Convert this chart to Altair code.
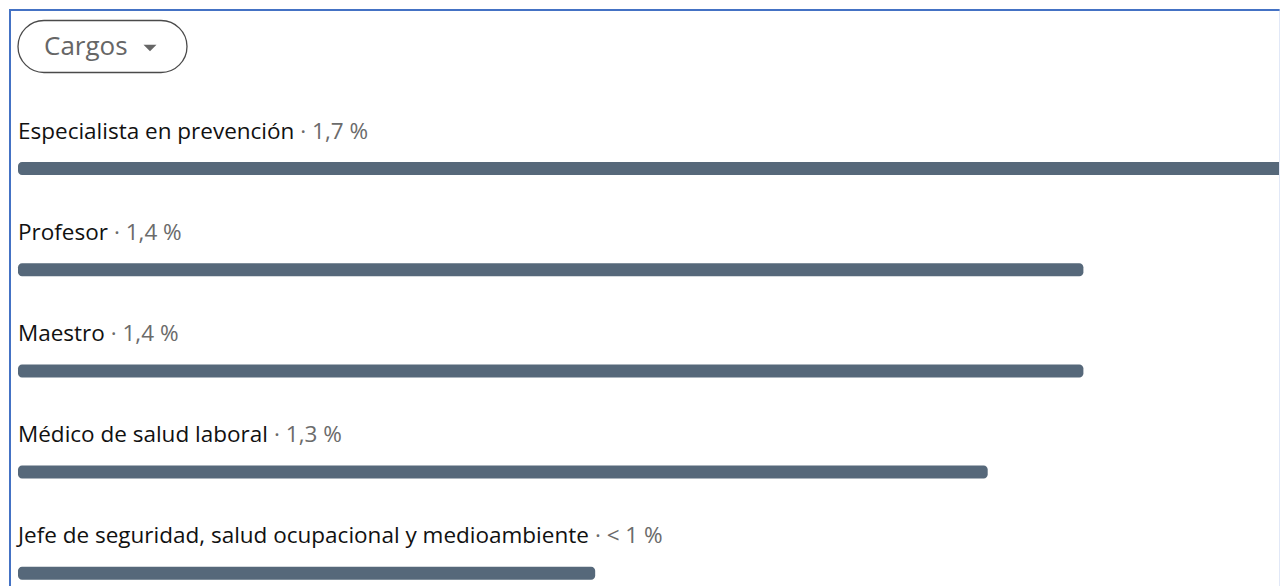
import altair as alt
import pandas as pd

# ---- data ----
cargos = [
    "Especialista en prevención",
    "Profesor",
    "Maestro",
    "Médico de salud laboral",
    "Jefe de seguridad, salud ocupacional y medioambiente",
]
valores = [1.7, 1.425, 1.425, 1.297, 0.772]          # share (%) -> bar length
etiquetas_valor = ["1,7 %", "1,4 %", "1,4 %", "1,3 %", "< 1 %"]
boton = "Cargos"

FONT = "Open Sans"
FS = 22.5          # label font size
W, H = 1272, 578

# Open Sans advance widths (units per em = 2048) used to place the grey value
# right after each title, like the inline "title · value" text of the original.
_ADV = {
    " ": 532, "·": 545, ",": 497, "%": 1714, "<": 1171,
    "a": 1139, "b": 1255, "c": 975, "d": 1255, "e": 1149, "f": 694, "g": 1122,
    "h": 1257, "i": 518, "j": 518, "k": 1075, "l": 518, "m": 1905, "n": 1257,
    "o": 1237, "p": 1255, "q": 1255, "r": 836, "s": 977, "t": 723, "u": 1257,
    "v": 1026, "w": 1593, "x": 1073, "y": 1028, "z": 977, "é": 1149, "ó": 1237,
    "E": 1147, "J": 545, "M": 1849, "P": 1237,
}


def text_width(s, size):
    return sum(_ADV.get(ch, 1150) for ch in s) * size / 2048.0


df = pd.DataFrame({
    "cargo": cargos,
    "valor": valores,
    "etiqueta": ["· " + e for e in etiquetas_valor],
    "fila": list(range(len(cargos))),
})
df["desplazamiento"] = [text_width(c + " ", FS) for c in cargos]

xscale = alt.Scale(domain=[0, 1.7], range=[9, 1280], nice=False, zero=True, padding=0)
yscale = alt.Scale(domain=[0, 4], range=[159.5, 564.3], nice=False, zero=False, padding=0)

base = alt.Chart(df)

bars = base.mark_bar(
    orient="horizontal", size=13, cornerRadius=4, color="#56687a", clip=True
).encode(
    x=alt.X("valor:Q", scale=xscale, axis=None),
    x2=alt.X2(datum=0),
    y=alt.Y("fila:Q", scale=yscale, axis=None),
)

txt_name = base.mark_text(
    align="left", baseline="alphabetic", dy=-30, font=FONT, fontSize=FS, color="#111111"
).encode(
    x=alt.X(datum=0, scale=xscale),
    y=alt.Y("fila:Q", scale=yscale),
    text="cargo:N",
)
txt_val = base.mark_text(
    align="left", baseline="alphabetic", dy=-30, font=FONT, fontSize=FS, color="#6b6b6b"
).encode(
    x=alt.X(datum=0, scale=xscale),
    xOffset=alt.XOffset("desplazamiento:Q", scale=None),
    y=alt.Y("fila:Q", scale=yscale),
    text="etiqueta:N",
)

one = alt.Data(values=[{"t": boton}])

pill = alt.Chart(one).mark_rect(
    cornerRadius=26, fill="white", stroke="#4a4a4a", strokeWidth=1.3
).encode(
    x=alt.value(9), x2=alt.value(178), y=alt.value(11.5), y2=alt.value(63.5)
)
pill_text = alt.Chart(one).mark_text(
    align="left", baseline="alphabetic", font=FONT, fontSize=26, color="#666666"
).encode(x=alt.value(35), y=alt.value(46), text="t:N")
tri = alt.Chart(one).mark_point(
    shape="M-1,-0.5L1,-0.5L0,0.5Z", filled=True, size=169, color="#666666", opacity=1
).encode(x=alt.value(141), y=alt.value(39))

border_top = alt.Chart(one).mark_rule(color="#4472c4", strokeWidth=2).encode(
    x=alt.value(0), x2=alt.value(W), y=alt.value(1)
)
border_left = alt.Chart(one).mark_rule(color="#4472c4", strokeWidth=2).encode(
    x=alt.value(1), y=alt.value(0), y2=alt.value(H)
)
border_right = alt.Chart(one).mark_rule(color="#c3d1ee", strokeWidth=1).encode(
    x=alt.value(W - 1), y=alt.value(0), y2=alt.value(H)
)

chart = alt.layer(
    border_top, border_left, border_right, pill, pill_text, tri, bars, txt_name, txt_val
).properties(
    width=W, height=H, padding=0,
    autosize=alt.AutoSizeParams(type="fit", contains="padding"),
    background="white",
).configure_view(stroke=None)

chart.save("out.html", embed_options={"renderer": "svg", "actions": False})
